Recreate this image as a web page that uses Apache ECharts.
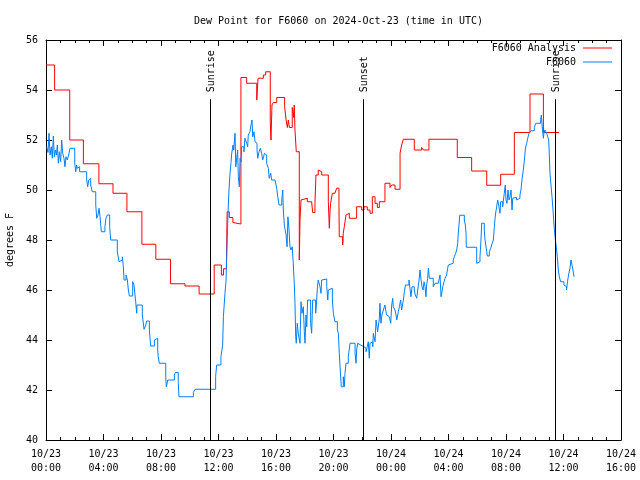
<!DOCTYPE html>
<html>
<head>
<meta charset="utf-8">
<script src="https://cdn.jsdelivr.net/npm/echarts@6/dist/echarts.min.js"></script>
<style>html,body{margin:0;padding:0;background:#fff}#c{width:640px;height:480px}</style>
</head>
<body>
<div id="c"></div>
<script>
// Time axis in hours since 2024-10-23 00:00 UTC
var xTickLabels = ['10/23\n00:00','10/23\n04:00','10/23\n08:00','10/23\n12:00','10/23\n16:00','10/23\n20:00','10/24\n00:00','10/24\n04:00','10/24\n08:00','10/24\n12:00','10/24\n16:00'];

var analysisHours = [0,0.6,1.65,2.6,3.68,4.66,5.63,6.67,7.64,8.66,9.67,10.65,11.7,12.2,12.35,12.55,12.6,12.75,13.0,13.1,13.56,13.96,14.66,14.75,15.12,15.28,15.6,15.65,15.72,15.81,16.05,16.6,16.7,16.79,16.86,16.93,17.13,17.23,17.27,17.32,17.41,17.62,17.67,17.74,17.86,18.18,18.48,18.55,18.71,18.78,18.94,19.06,19.18,19.64,19.71,19.76,19.8,19.92,20.1,20.22,20.38,20.4,20.64,20.68,20.75,20.87,20.96,21.1,21.61,21.96,22.12,22.35,22.54,22.7,22.89,23.05,23.19,23.58,23.93,24.05,24.28,24.63,24.74,24.86,25.62,26.13,26.25,26.64,28.61,29.61,30.66,31.63,32.58,33.67,34.6,35.69];
var analysisDew = [55.0,54.0,52.0,51.05,50.25,49.87,49.13,47.83,47.23,46.25,46.16,45.84,47.0,46.6,46.85,47.05,49.13,48.9,48.7,48.64,54.5,54.27,53.6,54.47,54.6,54.73,52.73,52.0,53.4,53.5,53.7,53.33,52.8,52.5,52.8,52.5,53.3,52.9,53.4,52.4,51.53,47.2,48.8,49.6,49.67,49.53,49.47,49.1,49.47,50.6,50.8,50.73,50.6,49.53,48.47,49.2,49.47,49.87,49.8,50.07,49.47,48.13,47.8,48.27,48.53,49.0,49.07,48.87,49.33,49.2,49.33,49.2,49.07,49.73,49.47,49.3,49.53,50.27,50.1,50.2,50.03,51.47,51.8,52.03,51.6,51.7,51.6,52.03,51.3,50.76,50.19,50.63,52.3,53.84,52.3,52.3];

var obsHours = [0.05,0.14,0.21,0.28,0.37,0.44,0.51,0.58,0.65,0.72,0.79,0.86,0.93,1.02,1.09,1.16,1.25,1.32,1.39,1.48,1.58,1.67,2.0,2.07,2.13,2.18,2.27,2.34,2.83,2.9,2.97,3.06,3.11,3.22,3.46,3.53,3.62,3.69,3.76,3.85,4.1,4.17,4.27,4.43,4.5,4.96,5.08,5.2,5.31,5.38,5.43,5.57,5.66,5.73,5.8,6.03,6.12,6.24,6.31,6.33,6.7,6.82,6.94,7.0,7.19,7.28,7.54,7.6,7.77,7.81,7.88,8.33,8.37,8.47,8.93,9.0,9.2,9.25,10.25,10.37,11.8,11.87,12.17,12.29,12.34,12.45,12.52,12.61,12.66,12.73,12.8,12.87,12.92,13.01,13.06,13.15,13.2,13.27,13.33,13.38,13.45,13.5,13.57,13.61,13.77,13.84,13.96,14.03,14.07,14.19,14.26,14.33,14.38,14.47,14.54,14.61,14.68,14.73,14.82,14.91,15.0,15.07,15.14,15.19,15.28,15.35,15.47,15.53,15.63,15.7,15.93,16.05,16.12,16.21,16.4,16.47,16.51,16.58,16.7,16.77,16.83,16.9,16.97,17.04,17.13,17.2,17.27,17.32,17.37,17.41,17.48,17.55,17.62,17.67,17.74,17.81,17.9,17.97,18.02,18.09,18.14,18.2,18.41,18.48,18.55,18.76,18.83,18.88,18.94,19.06,19.13,19.18,19.29,19.53,19.6,19.64,19.71,19.92,19.99,20.1,20.27,20.34,20.4,20.47,20.54,20.68,20.75,20.8,20.87,21.03,21.15,21.5,21.57,21.61,21.68,21.8,21.89,22.12,22.26,22.35,22.42,22.49,22.54,22.66,22.73,22.77,22.89,22.96,23.07,23.19,23.23,23.3,23.37,23.47,23.58,23.65,23.7,23.79,23.88,23.98,24.05,24.12,24.16,24.28,24.35,24.4,24.51,24.58,24.67,24.74,24.81,24.86,24.93,25.0,25.25,25.32,25.39,25.46,25.62,25.69,25.79,25.86,25.95,26.02,26.09,26.16,26.23,26.3,26.37,26.43,26.48,26.55,26.6,26.67,26.94,27.01,27.06,27.29,27.36,27.41,27.48,27.55,27.6,27.69,27.76,27.87,27.94,27.99,28.06,28.33,28.4,28.5,28.57,28.64,28.68,28.73,28.78,29.1,29.17,29.22,29.24,29.96,30.07,30.19,30.26,30.31,30.49,30.54,30.66,30.7,30.84,30.94,31.0,31.12,31.19,31.26,31.35,31.42,31.49,31.58,31.63,31.77,31.81,31.88,31.95,32.0,32.07,32.14,32.21,32.28,32.35,32.42,32.47,32.56,32.74,32.86,32.97,33.04,33.11,33.2,33.27,33.35,33.44,33.51,33.6,33.72,33.97,34.07,34.41,34.46,34.5,34.55,34.6,34.64,34.71,34.83,34.9,34.97,35.01,35.06,35.13,35.2,35.27,35.34,35.41,35.48,35.57,35.64,35.71,35.8,36.03,36.12,36.21,36.28,36.35,36.45,36.52,36.59,36.66,36.73];
var obsDew = [51.73,51.5,52.27,51.4,51.73,51.27,52.16,51.33,51.6,51.4,51.8,51.07,51.53,51.13,52.0,51.47,51.27,50.93,51.33,51.2,51.4,51.67,51.07,50.73,51.0,50.87,50.93,50.73,50.4,50.13,50.4,50.47,50.2,49.93,49.4,48.87,49.0,49.27,48.93,48.33,48.53,48.87,49.0,48.53,48.0,47.53,47.13,47.2,47.33,46.93,46.4,46.6,46.4,46.0,45.76,46.33,46.2,45.53,45.07,45.4,45.0,44.43,44.6,44.76,44.4,43.76,44.0,44.07,43.6,43.33,43.07,42.5,42.13,42.4,42.6,42.7,42.3,41.73,41.9,42.03,42.53,43.0,43.33,43.8,44.93,45.87,46.33,48.07,49.07,50.0,50.67,51.1,51.47,51.8,51.6,52.27,50.93,50.87,51.6,50.53,50.13,51.27,51.13,51.73,51.53,52.07,51.87,51.73,52.2,52.33,52.6,52.8,52.13,52.33,51.93,51.87,51.6,51.27,51.53,51.67,51.47,51.2,51.33,51.47,51.4,51.07,50.87,50.47,50.67,50.4,50.33,50.07,49.73,49.4,49.6,50.0,49.2,48.6,48.2,47.73,48.93,48.47,47.73,47.6,47.73,47.07,46.27,45.47,44.13,43.87,44.67,44.27,44.33,43.87,45.53,45.07,45.33,44.33,43.87,45.0,44.53,45.6,44.67,44.27,45.6,45.07,45.6,46.13,46.4,46.13,45.87,46.4,46.44,46.13,45.6,46.0,46.07,45.6,45.07,44.73,44.4,44.27,43.47,42.8,42.13,42.53,42.13,42.67,43.07,43.33,43.87,43.47,43.07,43.6,43.87,43.8,43.73,43.67,43.53,43.73,43.93,43.27,43.87,43.93,43.73,44.27,43.93,44.8,44.33,44.87,45.47,44.67,45.0,45.2,45.4,45.13,45.0,44.93,45.0,44.67,45.4,45.67,45.33,45.2,45.0,44.8,45.13,45.33,45.6,45.2,45.13,45.6,45.93,46.2,46.4,46.07,45.73,46.13,46.0,45.8,45.67,46.0,46.4,46.8,46.4,46.13,46.0,46.33,46.13,45.73,46.2,46.47,46.87,46.47,46.13,46.07,46.27,46.33,46.2,46.6,45.73,45.93,46.13,46.33,46.47,46.6,46.87,47.0,47.07,47.2,47.33,47.47,47.6,47.87,48.27,48.6,48.99,48.8,48.6,48.27,47.71,47.07,47.13,47.33,48.0,48.67,48.4,48.0,47.53,47.36,47.53,47.67,47.8,48.0,48.53,49.0,49.33,49.6,49.4,49.07,49.53,49.33,49.53,49.87,50.2,49.6,49.47,50.0,49.6,49.73,50.0,49.2,49.67,49.71,49.6,49.67,49.8,50.0,50.4,50.8,51.13,51.67,51.87,52.07,52.27,52.37,52.5,52.67,52.83,53.0,52.67,52.33,52.07,52.27,52.4,52.27,52.13,52.0,51.47,50.67,50.2,49.73,49.2,48.6,48.13,47.8,47.33,46.8,46.53,46.33,46.2,46.13,46.0,46.33,46.6,46.87,47.2,47.0,46.8,46.53];

var sunEventHours = [11.45, 22.07, 35.43];
var sunEventNames = ['Sunrise', 'Sunset', 'Sunrise'];
var sunLineTop = 53.63;

var FONT = 'DejaVu Sans Mono';

function zip(a, b) { return a.map(function (v, i) { return [v, b[i]]; }); }

var chart = echarts.init(document.getElementById('c'), null, { renderer: 'canvas' });

var xBase = {
  type: 'value', min: 0, max: 40, interval: 4,
  splitLine: { show: false },
  axisLine: { show: true, onZero: false, lineStyle: { color: '#000', width: 1 } },
  axisTick: { show: true, inside: true, length: 6, lineStyle: { color: '#000' } },
  minorTick: { show: true, splitNumber: 4, length: 3, lineStyle: { color: '#000' } },
  minorSplitLine: { show: false }
};
var yBase = {
  type: 'value', min: 40, max: 56, interval: 2,
  splitLine: { show: false },
  axisLine: { show: true, onZero: false, lineStyle: { color: '#000', width: 1 } },
  axisTick: { show: true, inside: true, length: 6, lineStyle: { color: '#000' } }
};

var legendBase = {
  orient: 'vertical', align: 'right', right: 28,
  icon: 'rect', itemWidth: 29, itemHeight: 1, padding: 0, itemGap: 0,
  textStyle: { fontFamily: FONT, fontSize: 10, color: '#000', padding: [0, 2, 0, 0] }
};

var option = {
  animation: false,
  backgroundColor: '#fff',
  title: {
    text: 'Dew Point for F6060 on 2024-Oct-23 (time in UTC)',
    left: 189, top: 11,
    textStyle: { fontFamily: FONT, fontSize: 10, fontWeight: 'normal', color: '#000' }
  },
  grid: { left: 46, right: 19, top: 40, bottom: 40, containLabel: false, outerBoundsMode: 'none' },
  legend: [
    Object.assign({}, legendBase, { data: ['F6060 Analysis'], top: 43 }),
    Object.assign({}, legendBase, { data: ['F6060'], top: 57 })
  ],
  xAxis: [
    Object.assign({}, xBase, {
      position: 'bottom',
      axisLabel: {
        show: true, margin: 7, fontFamily: FONT, fontSize: 10, color: '#000', lineHeight: 14,
        formatter: function (v) { var i = Math.round(v / 4); return xTickLabels[i] || ''; }
      }
    }),
    Object.assign({}, xBase, { position: 'top', axisLabel: { show: false } })
  ],
  yAxis: [
    Object.assign({}, yBase, {
      position: 'left',
      name: 'degrees F', nameLocation: 'middle', nameGap: 31, nameRotate: 90,
      nameTextStyle: { fontFamily: FONT, fontSize: 10, color: '#000' },
      axisLabel: { show: true, margin: 8, fontFamily: FONT, fontSize: 10, color: '#000' }
    }),
    Object.assign({}, yBase, { position: 'right', axisLabel: { show: false } })
  ],
  series: [
    {
      name: 'F6060 Analysis', type: 'line', step: 'end', symbol: 'none',
      xAxisIndex: 0, yAxisIndex: 0,
      data: zip(analysisHours, analysisDew),
      lineStyle: { color: '#ff0000', width: 1 }, itemStyle: { color: '#ff0000' },
      markLine: {
        silent: true, symbol: ['none', 'none'], animation: false,
        label: { show: false },
        lineStyle: { color: '#000', type: 'solid', width: 1 },
        data: sunEventHours.map(function (h) { return [{ coord: [h, 40] }, { coord: [h, sunLineTop] }]; })
      }
    },
    {
      name: 'F6060', type: 'line', step: 'end', symbol: 'none',
      xAxisIndex: 0, yAxisIndex: 0,
      data: zip(obsHours, obsDew),
      lineStyle: { color: '#0080ff', width: 1 }, itemStyle: { color: '#0080ff' }
    }
  ]
};
chart.setOption(option);

var g = sunEventHours.map(function (h, i) {
  var p = chart.convertToPixel({ xAxisIndex: 0, yAxisIndex: 0 }, [h, sunLineTop]);
  return {
    type: 'text', x: p[0] + 1, y: p[1] - 7, rotation: Math.PI / 2, z: 100,
    style: { text: sunEventNames[i], fontFamily: FONT, fontSize: 10, fill: '#000', textAlign: 'left', textVerticalAlign: 'middle' }
  };
});
chart.setOption({ graphic: g });
</script>
</body>
</html>
